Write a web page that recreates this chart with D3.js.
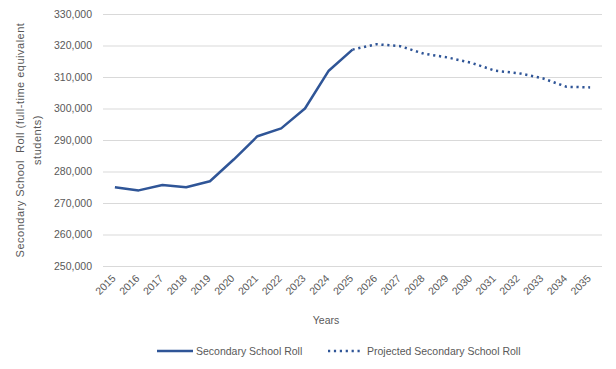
<!DOCTYPE html>
<html>
<head>
<meta charset="utf-8">
<script src="https://cdn.jsdelivr.net/npm/d3@7"></script>
<style>
  body { margin: 0; background: #fff; }
  svg { display: block; font-family: "Liberation Sans", Arial, sans-serif; }
</style>
</head>
<body>
<div id="chart"></div>
<script>
// Chart size and plot box
const width = 616;
const height = 369;
const margin = {left: 103, right: 14, top: 14, bottom: 103};

// Data
const years = ["2015","2016","2017","2018","2019","2020","2021","2022","2023","2024","2025",
               "2026","2027","2028","2029","2030","2031","2032","2033","2034","2035"];
const actualYears = years.slice(0, 11);
const actualValues = [275000, 274000, 275700, 275000, 276900, 283800, 291200, 293700, 300000, 312000, 318700];
const projectedYears = years.slice(10);
const projectedValues = [318700, 320400, 319800, 317400, 316200, 314500, 312000, 311200, 309600, 306900, 306700];
const yTicks = [250000, 260000, 270000, 280000, 290000, 300000, 310000, 320000, 330000];

const lineColor = "#2f5597";
const textColor = "#595959";

const svg = d3.select("#chart")
  .append("svg")
  .attr("width", width)
  .attr("height", height);

// scales
const xScale = d3.scalePoint()
  .domain(years)
  .range([margin.left, width - margin.right])
  .padding(0.5);

const yScale = d3.scaleLinear()
  .domain([250000, 330000])
  .range([height - margin.bottom, margin.top]);

// gridlines + y labels
const yAxis = svg.append("g")
  .attr("transform", `translate(${margin.left},0)`)
  .call(d3.axisLeft(yScale)
    .tickValues(yTicks)
    .tickFormat(d3.format(","))
    .tickSize(-(width - margin.left - margin.right))
    .tickPadding(11));
yAxis.select(".domain").remove();
yAxis.selectAll(".tick line").attr("stroke", "#d9d9d9").attr("stroke-width", 1);
yAxis.selectAll(".tick text")
  .attr("fill", textColor)
  .attr("font-size", "10.5px");

// x labels, rotated
const xAxis = svg.append("g")
  .attr("transform", `translate(0,${height - margin.bottom})`)
  .call(d3.axisBottom(xScale).tickSize(0).tickPadding(0));
xAxis.select(".domain").remove();
xAxis.selectAll(".tick text")
  .attr("fill", textColor)
  .attr("font-size", "10.5px")
  .attr("text-anchor", "end")
  .attr("dy", 0)
  .attr("transform", "translate(1,13) rotate(-45)");

// axis titles
svg.append("text")
  .attr("x", 326)
  .attr("y", 324)
  .attr("text-anchor", "middle")
  .attr("fill", textColor)
  .attr("font-size", "10.5px")
  .text("Years");

const yTitle = svg.append("text")
  .attr("transform", "translate(24,140) rotate(-90)")
  .attr("text-anchor", "middle")
  .attr("fill", textColor)
  .attr("font-size", "11px")
  .attr("letter-spacing", "0.5px");
yTitle.append("tspan").attr("x", 0).attr("y", 0)
  .attr("xml:space", "preserve")
  .text("Secondary School  Roll (full-time equivalent");
yTitle.append("tspan").attr("x", 0).attr("y", 17).text("students)");

// lines
const line = d3.line()
  .x(d => xScale(d[0]))
  .y(d => yScale(d[1]));

svg.append("path")
  .datum(projectedYears.map((y, i) => [y, projectedValues[i]]))
  .attr("fill", "none")
  .attr("stroke", lineColor)
  .attr("stroke-width", 2.5)
  .attr("stroke-dasharray", "2.2 3.7")
  .attr("d", line);

svg.append("path")
  .datum(actualYears.map((y, i) => [y, actualValues[i]]))
  .attr("fill", "none")
  .attr("stroke", lineColor)
  .attr("stroke-width", 2.5)
  .attr("stroke-linejoin", "round")
  .attr("d", line);

// legend
const legendY = 351;
svg.append("line")
  .attr("x1", 157).attr("x2", 193)
  .attr("y1", legendY).attr("y2", legendY)
  .attr("stroke", lineColor).attr("stroke-width", 2.5);
svg.append("text")
  .attr("x", 196).attr("y", legendY + 3.5)
  .attr("fill", textColor).attr("font-size", "10.5px")
  .text("Secondary School Roll");
svg.append("line")
  .attr("x1", 328).attr("x2", 362)
  .attr("y1", legendY).attr("y2", legendY)
  .attr("stroke", lineColor).attr("stroke-width", 2.5)
  .attr("stroke-dasharray", "2.2 3.7");
svg.append("text")
  .attr("x", 367).attr("y", legendY + 3.5)
  .attr("fill", textColor).attr("font-size", "10.5px")
  .text("Projected Secondary School Roll");
</script>
</body>
</html>
